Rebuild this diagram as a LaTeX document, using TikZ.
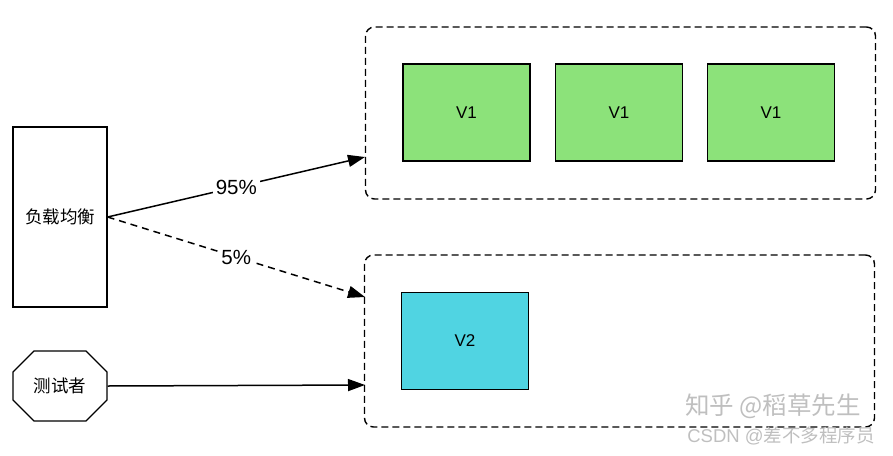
\documentclass[tikz,border=0pt]{standalone}
\usepackage{fontspec}
\setmainfont{Liberation Sans}
\newfontfamily\cjk{Noto Sans CJK SC}
\usetikzlibrary{arrows.meta,shapes.misc}
\definecolor{vgreen}{HTML}{8CE27A}
\definecolor{vcyan}{HTML}{50D4E2}

\begin{document}
\begin{tikzpicture}[x=1pt,y=-1pt,
	vbox/.style={draw,line width=1.2pt,minimum width=127pt,minimum height=97pt,inner sep=0pt,font=\fontsize{17}{19}\selectfont},
	group/.style={draw,line width=1.4pt,dash pattern=on 7pt off 4pt,rounded corners=9pt,minimum width=510pt,minimum height=172pt,inner sep=0pt},
	flow/.style={-{Triangle[length=17pt,width=12pt]},line width=1.5pt},
	pct/.style={fill=white,inner sep=3pt,font=\fontsize{20.5}{22}\selectfont},
	wmark/.style={text=gray!50,inner sep=0pt}]
	\useasboundingbox (0,0) rectangle (893,455);
	% dashed groups
	\node[group] (grpA) at (620.5,113) {};
	\node[group] (grpB) at (619.5,341) {};
	% versions
	\node[vbox,fill=vgreen] (va) at (466.5,112.5) {V1};
	\node[vbox,fill=vgreen] (vb) at (619,112.5) {V1};
	\node[vbox,fill=vgreen] (vc) at (771,112.5) {V1};
	\node[vbox,fill=vcyan] (vd) at (465,341) {V2};
	% left side
	\node[draw,line width=1.2pt,minimum width=94pt,minimum height=180pt,inner sep=0pt,font=\cjk\fontsize{17.5}{19}\selectfont] (lb) at (60,217) {负载均衡};
	\node[draw,line width=1.2pt,chamfered rectangle,chamfered rectangle xsep=13pt,chamfered rectangle ysep=13pt,minimum width=94pt,minimum height=70pt,inner sep=0pt,font=\cjk\fontsize{17.5}{19}\selectfont] (tst) at (60,386) {测试者};
	\coordinate (inA) at (365,157);
	\coordinate (inB) at (365,297);
	\coordinate (inC) at (365,385);
	% connectors
	\draw[flow] (lb.east) -- node[pct] {95\%} (inA);
	\draw[flow,dash pattern=on 7pt off 5pt] (lb.east) -- node[pct] {5\%} (inB);
	\draw[flow] (tst.east) -- (inC);
	% watermark
	\node[wmark,font=\cjk\fontsize{24.5}{26}\selectfont] (zh) at (773,406) {知乎 @稻草先生};
	\node[wmark,font=\fontsize{18.5}{20}\selectfont] (csdn) at (781,436) {CSDN @{\cjk 差不多程序员}};
\end{tikzpicture}
\end{document}
